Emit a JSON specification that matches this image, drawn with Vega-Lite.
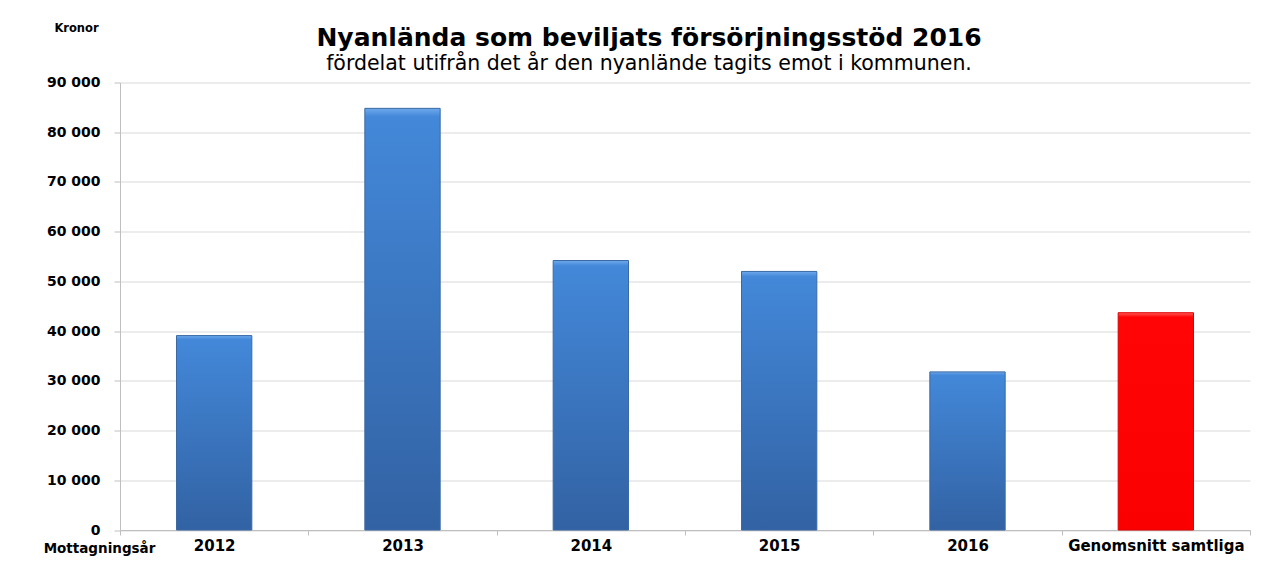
{
  "$schema": "https://vega.github.io/schema/vega-lite/v6.json",
  "autosize": {"type": "none"},
  "width": 1130,
  "height": 447.5,
  "padding": {"left": 120, "top": 82.5, "right": 19, "bottom": 48},
  "background": "white",
  "config": {
    "view": {"stroke": null},
    "font": "DejaVu Sans"
  },
  "title": {
    "text": "Nyanlända som beviljats försörjningsstöd 2016",
    "subtitle": "fördelat utifrån det år den nyanlände tagits emot i kommunen.",
    "anchor": "middle",
    "dx": -36,
    "font": "DejaVu Sans",
    "fontSize": 25,
    "fontWeight": "bold",
    "color": "#000000",
    "subtitleFont": "DejaVu Sans",
    "subtitleFontSize": 20.5,
    "subtitleColor": "#000000",
    "subtitlePadding": 3,
    "offset": -52
  },
  "data": {
    "values": [
      {"kategori": "2012", "kronor": 39100, "typ": "år"},
      {"kategori": "2013", "kronor": 84800, "typ": "år"},
      {"kategori": "2014", "kronor": 54200, "typ": "år"},
      {"kategori": "2015", "kronor": 52000, "typ": "år"},
      {"kategori": "2016", "kronor": 31800, "typ": "år"},
      {"kategori": "Genomsnitt samtliga", "kronor": 43700, "typ": "snitt"}
    ]
  },
  "encoding": {
    "x": {
      "field": "kategori",
      "type": "nominal",
      "sort": null,
      "scale": {"paddingInner": 0, "paddingOuter": 0},
      "axis": {
        "title": "Mottagningsår",
        "titleAngle": 0,
        "titleX": -21,
        "titleY": 18,
        "titleAlign": "center",
        "titleBaseline": "middle",
        "titleFont": "DejaVu Sans",
        "titleFontSize": 13.5,
        "titleFontWeight": "bold",
        "titleColor": "#000000",
        "labelAngle": 0,
        "labelFont": "DejaVu Sans",
        "labelFontSize": 15,
        "labelFontWeight": "bold",
        "labelColor": "#000000",
        "labelPadding": 3,
        "tickBand": "extent",
        "tickColor": "#bfbfbf",
        "tickSize": 5,
        "domainColor": "#bfbfbf",
        "grid": false
      }
    },
    "y": {
      "field": "kronor",
      "type": "quantitative",
      "scale": {"domain": [0, 90000], "nice": false},
      "axis": {
        "values": [0, 10000, 20000, 30000, 40000, 50000, 60000, 70000, 80000, 90000],
        "labelExpr": "replace(format(datum.value, ','), ',', ' ')",
        "title": "Kronor",
        "titleAngle": 0,
        "titleX": -44,
        "titleY": -54,
        "titleAlign": "center",
        "titleBaseline": "middle",
        "titleFont": "DejaVu Sans",
        "titleFontSize": 11.5,
        "titleFontWeight": "bold",
        "titleColor": "#000000",
        "labelFont": "DejaVu Sans",
        "labelFontSize": 14,
        "labelFontWeight": "bold",
        "labelColor": "#000000",
        "labelPadding": 14,
        "tickColor": "#bfbfbf",
        "tickSize": 6,
        "domainColor": "#bfbfbf",
        "gridColor": "#d9d9d9",
        "gridWidth": 1.2
      }
    }
  },
  "layer": [
    {
      "transform": [{"filter": "datum.typ === 'år'"}],
      "mark": {
        "type": "bar",
        "width": {"band": 0.4},
        "stroke": "#3a69a3",
        "strokeWidth": 1,
        "color": {
          "gradient": "linear",
          "x1": 0, "y1": 0, "x2": 0, "y2": 1,
          "stops": [
            {"offset": 0, "color": "#6fa9ec"},
            {"offset": 0.02, "color": "#4388d9"},
            {"offset": 1, "color": "#3262a3"}
          ]
        }
      }
    },
    {
      "transform": [{"filter": "datum.typ === 'snitt'"}],
      "mark": {
        "type": "bar",
        "width": {"band": 0.4},
        "stroke": "#e00000",
        "strokeWidth": 1,
        "color": {
          "gradient": "linear",
          "x1": 0, "y1": 0, "x2": 0, "y2": 1,
          "stops": [
            {"offset": 0, "color": "#ff5a5a"},
            {"offset": 0.02, "color": "#ff0505"},
            {"offset": 1, "color": "#fa0000"}
          ]
        }
      }
    }
  ]
}
